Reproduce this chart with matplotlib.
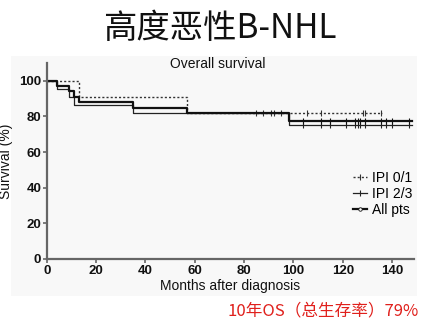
import matplotlib
matplotlib.use("Agg")
import matplotlib.pyplot as plt
from matplotlib.lines import Line2D
from matplotlib.patches import Rectangle

# ---- data ----
ipi01_t = [0, 13, 57, 136]
ipi01_s = [100, 91, 82, 82]
ipi01_cens_t = [85, 87.5, 91, 92, 95, 105.5, 111, 128, 129, 135.6]
ipi01_cens_s = [82] * len(ipi01_cens_t)

ipi23_t = [0, 4, 9, 11, 35, 98, 148]
ipi23_s = [100, 95.5, 91, 86.5, 82, 75.3, 75.3]
ipi23_cens_t = [104, 111, 115, 121.5, 125, 126, 127, 129, 135.6, 137.5, 140, 147]
ipi23_cens_s = [75.3] * len(ipi23_cens_t)

all_t = [0, 4, 9, 11, 13, 35, 57, 98, 148]
all_s = [100, 97, 94, 91, 88, 84.7, 82, 77.2, 77.2]
all_cens_t = [104, 111, 115, 121.5, 125, 126, 127, 129, 135.6, 137.5, 140, 147]
all_cens_s = [77.2] * len(all_cens_t)

x_ticks = [0, 20, 40, 60, 80, 100, 120, 140]
y_ticks = [0, 20, 40, 60, 80, 100]

title = "高度恶性B-NHL"
subtitle = "Overall survival"
note = "10年OS（总生存率）79%"

plt.rcParams['font.family'] = ['Liberation Sans', 'Noto Sans CJK SC', 'DejaVu Sans']

fig = plt.figure(figsize=(4.30, 3.29), dpi=100)
fig.patches.append(Rectangle((0.025, 0.10), 0.945, 0.73, transform=fig.transFigure,
                             facecolor='#f8f8f8', edgecolor='none', zorder=-10))
ax = fig.add_axes([0.1086, 0.2128, 0.855, 0.596])
ax.set_facecolor('none')

ax.step(ipi01_t, ipi01_s, where='post', color='#333333', lw=1.0, ls=(0, (1.5, 1.5)))
ax.plot(ipi01_cens_t, ipi01_cens_s, ls='none', marker='|', ms=5, mew=0.8, color='#333333')
ax.step(ipi23_t, ipi23_s, where='post', color='#222222', lw=0.9)
ax.plot(ipi23_cens_t, ipi23_cens_s, ls='none', marker='|', ms=5, mew=0.8, color='#222222')
ax.step(all_t, all_s, where='post', color='#111111', lw=1.6)
ax.plot(all_cens_t, all_cens_s, ls='none', marker='|', ms=5, mew=0.8, color='#111111')

ax.set_xlim(0, 149)
ax.set_ylim(0, 110)
ax.set_xticks(x_ticks)
ax.set_yticks(y_ticks)
for s in ['top', 'right']:
    ax.spines[s].set_visible(False)
for s in ['left', 'bottom']:
    ax.spines[s].set_color('#666666')
    ax.spines[s].set_linewidth(1.6)
ax.tick_params(axis='both', colors='#666666', length=3, width=1.2, labelsize=9.5,
               labelcolor='#111111', pad=1)
for lab in ax.get_xticklabels() + ax.get_yticklabels():
    lab.set_fontweight('bold')
ax.set_xlabel("Months after diagnosis", fontsize=10, color='#111111', labelpad=2)
ax.set_ylabel("Survival (%)", fontsize=10, color='#111111', labelpad=4)

handles = [
    Line2D([], [], color='#333333', lw=1.0, ls=(0, (1.5, 1.5)), marker='|', ms=5, mew=0.8),
    Line2D([], [], color='#222222', lw=0.9, marker='|', ms=5, mew=0.8),
    Line2D([], [], color='#111111', lw=1.6, marker='o', ms=2.5, mfc='white', mew=0.6),
]
ax.legend(handles, ["IPI 0/1", "IPI 2/3", "All pts"], loc='upper left',
          bbox_to_anchor=(0.80, 0.515), frameon=False, fontsize=10,
          handlelength=1.0, handletextpad=0.35, labelspacing=0.15)

fig.text(0.51, 0.912, title, ha='center', va='center', fontsize=24,
         family=['Noto Sans CJK SC', 'DejaVu Sans'], color='#111111')
fig.text(0.507, 0.805, subtitle, ha='center', va='center', fontsize=10, color='#111111')
fig.text(0.973, 0.055, note, ha='right', va='center', fontsize=12,
         family=['Noto Sans CJK SC', 'DejaVu Sans'], color='#e0201c')

fig.savefig("out.png", dpi=100)
